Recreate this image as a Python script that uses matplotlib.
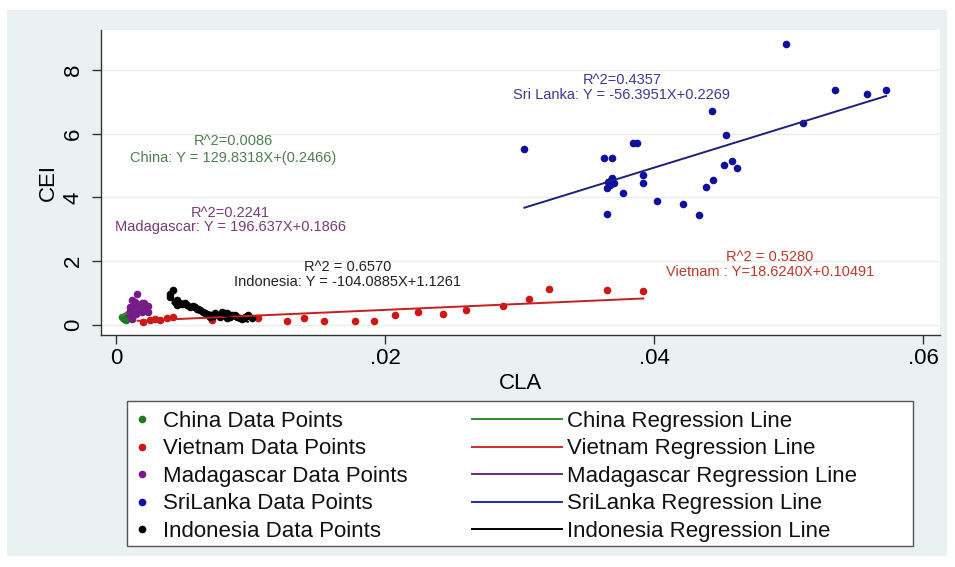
import matplotlib
matplotlib.use("Agg")
import matplotlib.pyplot as plt
from matplotlib.lines import Line2D
from matplotlib.patches import Rectangle
import numpy as np

plt.rcParams['font.family'] = ['Liberation Sans', 'DejaVu Sans']

# ---------------- data ----------------
china_x = [0.00042, 0.00060, 0.00075, 0.00088, 0.00070]
china_y = [0.26, 0.20, 0.15, 0.24, 0.30]

vietnam_x = [0.00203, 0.00253, 0.00290, 0.00327, 0.00377, 0.00426, 0.00711,
             0.01054, 0.01269, 0.01398, 0.01549, 0.01777, 0.01920, 0.02074,
             0.02248, 0.02433, 0.02602, 0.02880, 0.03071, 0.03220, 0.03653, 0.03916]
vietnam_y = [0.10, 0.16, 0.18, 0.16, 0.21, 0.24, 0.16,
             0.23, 0.125, 0.21, 0.125, 0.135, 0.135, 0.31,
             0.40, 0.355, 0.47, 0.61, 0.82, 1.12, 1.11, 1.08]

madagascar_x = [0.00154, 0.00117, 0.00141, 0.00104, 0.00166, 0.00203, 0.00228,
                0.00129, 0.00091, 0.00117, 0.00191, 0.00240, 0.00220, 0.00180,
                0.00130, 0.00100, 0.00150, 0.00210, 0.00240, 0.00120,
                0.00160, 0.00190, 0.00140, 0.00230]
madagascar_y = [0.99, 0.78, 0.73, 0.57, 0.625, 0.625, 0.57,
                0.42, 0.36, 0.26, 0.42, 0.42, 0.50, 0.55,
                0.60, 0.45, 0.35, 0.68, 0.60, 0.20,
                0.50, 0.70, 0.48, 0.48]

srilanka_x = [0.04981, 0.05346, 0.05581, 0.05725, 0.04429, 0.05105, 0.04535,
              0.03846, 0.03871, 0.03036, 0.03631, 0.03690, 0.04523, 0.04578,
              0.04615, 0.03921, 0.03921, 0.03660, 0.03690, 0.03700, 0.03670,
              0.03650, 0.03680, 0.03767, 0.04441, 0.04384, 0.04025, 0.04218,
              0.04335, 0.03648]
srilanka_y = [8.82, 7.375, 7.23, 7.375, 6.72, 6.35, 5.97,
              5.72, 5.72, 5.52, 5.25, 5.25, 5.02, 5.13,
              4.94, 4.69, 4.46, 4.50, 4.62, 4.45, 4.38,
              4.30, 4.55, 4.15, 4.55, 4.34, 3.875, 3.80,
              3.46, 3.48]

indonesia_x = [0.00426, 0.00401, 0.00401, 0.00451, 0.00476, 0.00513, 0.00550,
               0.00587, 0.00625, 0.00662, 0.00699, 0.00736, 0.00773, 0.00786,
               0.00823, 0.00823, 0.00848, 0.00885, 0.00922, 0.00959, 0.00984,
               0.01010, 0.00450, 0.00600,
               0.00440, 0.00490, 0.00530, 0.00570, 0.00610, 0.00650, 0.00680,
               0.00720, 0.00760, 0.00800, 0.00860, 0.00900, 0.00940, 0.00970]
indonesia_y = [1.09, 0.99, 0.88, 0.78, 0.68, 0.68, 0.57,
               0.57, 0.47, 0.365, 0.26, 0.365, 0.26, 0.42,
               0.365, 0.21, 0.26, 0.31, 0.21, 0.26, 0.31,
               0.21, 0.62, 0.50,
               0.72, 0.66, 0.62, 0.60, 0.52, 0.42, 0.32,
               0.30, 0.33, 0.38, 0.33, 0.26, 0.18, 0.30]

# regression lines: (slope, intercept, x_start, x_end)
china_fit = (129.8318, 0.2466, 0.0004, 0.0009)
vietnam_fit = (18.6240, 0.10491, 0.0016, 0.0392)
madagascar_fit = (196.637, 0.1866, 0.0009, 0.0024)
srilanka_fit = (130.2, -0.273, 0.03036, 0.05725)
indonesia_fit = (-104.0885, 1.1261, 0.0042, 0.0098)

x_ticks = [0, 0.02, 0.04, 0.06]
x_tick_labels = ["0", ".02", ".04", ".06"]
y_ticks = [0, 2, 4, 6, 8]
y_tick_labels = ["0", "2", "4", "6", "8"]

annotations = [
    # (r2 text, eq text, x, y_r2, y_eq, color)
    ("R^2=0.4357", "Sri Lanka: Y = -56.3951X+0.2269", 0.0376, 7.68, 7.21, "#3b3b8f"),
    ("R^2=0.0086", "China: Y = 129.8318X+(0.2466)", 0.0087, 5.78, 5.23, "#4f7f4f"),
    ("R^2=0.2241", "Madagascar: Y = 196.637X+0.1866", 0.0085, 3.51, 3.07, "#7b3a7b"),
    ("R^2 = 0.6570", "Indonesia: Y = -104.0885X+1.1261", 0.0172, 1.83, 1.34, "#222222"),
    ("R^2 = 0.5280", "Vietnam : Y=18.6240X+0.10491", 0.0486, 2.13, 1.66, "#c0392b"),
]

W, H = 955, 567
fig = plt.figure(figsize=(W / 100, H / 100), dpi=100)
fig.patch.set_facecolor("white")

# outer light panel
fig.patches.append(Rectangle((7 / W, 1 - 556 / H), 940 / W, 546 / H,
                             transform=fig.transFigure, facecolor="#eaf1f3",
                             edgecolor="none", zorder=-2))

ax = fig.add_axes([101 / W, 1 - 335 / H, 839 / W, 305 / H])
ax.set_zorder(1)
ax.set_facecolor("white")
ax.set_xlim(-0.00112, 0.06126)
ax.set_ylim(-0.31, 9.25)

for s in ["top", "right"]:
    ax.spines[s].set_visible(False)
for s in ["left", "bottom"]:
    ax.spines[s].set_color("#333333")
    ax.spines[s].set_linewidth(1.0)

ax.set_yticks(y_ticks)
ax.set_yticklabels(y_tick_labels, rotation=90, va="center")
ax.set_xticks(x_ticks)
ax.set_xticklabels(x_tick_labels)
ax.tick_params(axis="y", length=6.5, width=1, color="#333333", labelsize=16, pad=6)
ax.tick_params(axis="x", length=6.5, width=1, color="#333333", labelsize=16, pad=3)
ax.yaxis.grid(True, color="#ececec", linewidth=1.0)
ax.set_axisbelow(True)

ax.set_xlabel("CLA", fontsize=16, labelpad=3)
ax.set_ylabel("CEI", fontsize=16, labelpad=3)

ms = 30
pts = [
    (china_x, china_y, "#1e7a1e", "China"),
    (vietnam_x, vietnam_y, "#d01515", "Vietnam"),
    (srilanka_x, srilanka_y, "#1010a0", "SriLanka"),
    (indonesia_x, indonesia_y, "black", "Indonesia"),
    (madagascar_x, madagascar_y, "#7a1a8a", "Madagascar"),
]
for xs, ys, c, n in pts:
    ax.scatter(xs, ys, s=ms, color=c, zorder=3, linewidths=0)

fits = [
    (china_fit, "#2e8b2e"),
    (vietnam_fit, "#c81e1e"),
    (madagascar_fit, "#6a2a7a"),
    (srilanka_fit, "#1f1f80"),
    (indonesia_fit, "black"),
]
for (m, b, x0, x1), c in fits:
    xx = np.array([x0, x1])
    ax.plot(xx, m * xx + b, color=c, lw=1.4, zorder=4)

for r2, eq, x, yr, ye, c in annotations:
    ax.text(x, yr, r2, color=c, fontsize=10.5, ha="center", va="center", zorder=5)
    ax.text(x, ye, eq, color=c, fontsize=10.5, ha="center", va="center", zorder=5)

# legend frame
fig.patches.append(Rectangle((127 / W, 1 - 546 / H), 786 / W, 145 / H,
                             transform=fig.transFigure, facecolor="white",
                             edgecolor="#555555", linewidth=1.0, zorder=-1))

pt_handles = [Line2D([], [], marker="o", ls="none", color=c, markersize=4.5)
              for c in ["#1e7a1e", "#d01515", "#7a1a8a", "#1010a0", "black"]]
pt_labels = ["China Data Points", "Vietnam Data Points", "Madagascar Data Points",
             "SriLanka Data Points", "Indonesia Data Points"]
ln_handles = [Line2D([], [], color=c, lw=1.4)
              for c in ["#2e8b2e", "#d42a2a", "#6a2a7a", "#2424c8", "black"]]
ln_labels = ["China Regression Line", "Vietnam Regression Line", "Madagascar Regression Line",
             "SriLanka Regression Line", "Indonesia Regression Line"]

leg1 = fig.legend(pt_handles, pt_labels, loc="upper left",
                  bbox_to_anchor=(133 / W, 1 - 411 / H), frameon=False,
                  fontsize=16, handlelength=0.8, handletextpad=0.55,
                  labelspacing=0.29, borderpad=0, borderaxespad=0)
leg2 = fig.legend(ln_handles, ln_labels, loc="upper left",
                  bbox_to_anchor=(471.7 / W, 1 - 411 / H), frameon=False,
                  fontsize=16, handlelength=4.05, handletextpad=0.25,
                  labelspacing=0.29, borderpad=0, borderaxespad=0)
for lg in (leg1, leg2):
    lg.set_zorder(2)
    for t in lg.get_texts():
        t.set_color("#111111")

fig.savefig("out.png", dpi=100)
